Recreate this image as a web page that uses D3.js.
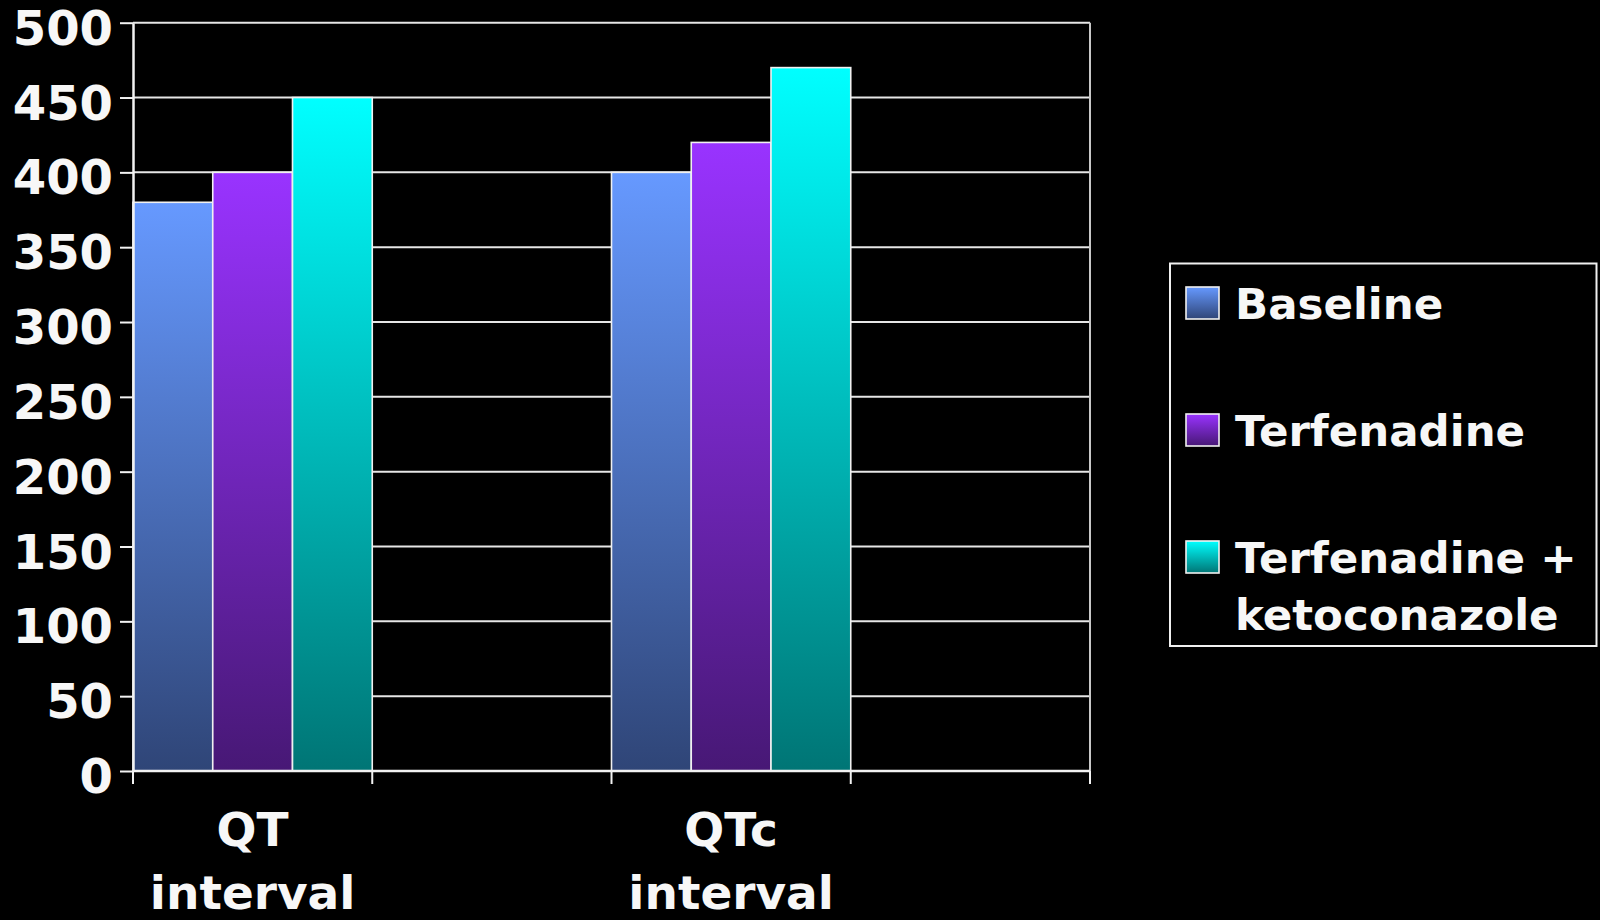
<!DOCTYPE html>
<html>
<head>
<meta charset="utf-8">
<script src="https://cdn.jsdelivr.net/npm/d3@7/dist/d3.min.js"></script>
<style>
  html, body { margin: 0; padding: 0; background: #000; }
  svg { display: block; }
  text { font-family: "DejaVu Sans", Verdana, sans-serif; font-weight: bold; fill: #f7f7f7; }
</style>
</head>
<body>
<svg id="chart" width="1600" height="920"></svg>
<script>
// QT measurements (ms) under each treatment
const categories = ["QT interval", "QTc interval"];
const categoryLines = [["QT", "interval"], ["QTc", "interval"]];
const series = ["Baseline", "Terfenadine", "Terfenadine + ketoconazole"];
const legendLines = [["Baseline"], ["Terfenadine"], ["Terfenadine +", "ketoconazole"]];
const baseline = [380, 400];
const terfenadine = [400, 420];
const terfKetoconazole = [450, 470];
const yTicks = [0, 50, 100, 150, 200, 250, 300, 350, 400, 450, 500];

const values = [baseline, terfenadine, terfKetoconazole];
const topColors = ["#6699ff", "#9933ff", "#00ffff"];
const bottomColors = ["#2f4577", "#471875", "#007575"];

const svg = d3.select("#chart");
const plotLeft = 133, plotRight = 1090, plotTop = 22.7, plotBottom = 771;

// Each category is followed by an empty slot of equal width
const slots = [];
categories.forEach((c, i) => { slots.push(c); slots.push("__gap" + i); });
const x = d3.scaleBand().domain(slots).range([plotLeft, plotRight]).padding(0);
const xs = d3.scaleBand().domain(series).range([0, x.bandwidth()]).padding(0);
const y = d3.scaleLinear().domain([0, 500]).range([plotBottom, plotTop]);

// Vertical gradients, bright at the top and dark at the bottom
const defs = svg.append("defs");
series.forEach((s, i) => {
  const g = defs.append("linearGradient").attr("id", "grad" + i)
    .attr("x1", 0).attr("y1", 0).attr("x2", 0).attr("y2", 1);
  g.append("stop").attr("offset", "0%").attr("stop-color", topColors[i]);
  g.append("stop").attr("offset", "100%").attr("stop-color", bottomColors[i]);
});

// Horizontal gridlines
svg.append("g").selectAll("line").data(yTicks.filter(d => d > 0)).join("line")
  .attr("x1", plotLeft).attr("x2", plotRight)
  .attr("y1", d => y(d)).attr("y2", d => y(d))
  .attr("stroke", "#e6e6e6").attr("stroke-width", 2);

// Right frame edge
svg.append("line").attr("x1", plotRight).attr("x2", plotRight).attr("y1", plotTop).attr("y2", plotBottom)
  .attr("stroke", "#c8c8c8").attr("stroke-width", 2);

// Bars
const bars = svg.append("g");
categories.forEach((c, ci) => {
  series.forEach((s, si) => {
    const v = values[si][ci];
    bars.append("rect")
      .attr("x", x(c) + xs(s))
      .attr("y", y(v))
      .attr("width", xs.bandwidth())
      .attr("height", y(0) - y(v))
      .attr("fill", "url(#grad" + si + ")")
      .attr("stroke", "#f0f0f0").attr("stroke-width", 1.6);
  });
});

// Y axis
const yAxis = svg.append("g").attr("transform", `translate(${plotLeft},0)`)
  .call(d3.axisLeft(y).tickValues(yTicks).tickSize(13).tickSizeOuter(0).tickPadding(7));
yAxis.select(".domain").attr("stroke", "#f2f2f2").attr("stroke-width", 2.5);
yAxis.selectAll(".tick line").attr("stroke", "#f2f2f2").attr("stroke-width", 2);
yAxis.selectAll(".tick text")
  .attr("font-size", 48).attr("dy", "0.45em").attr("fill", "#f7f7f7");
yAxis.attr("font-family", null).attr("font-size", null);

// X axis baseline and slot dividers
svg.append("line").attr("x1", plotLeft).attr("x2", plotRight).attr("y1", plotBottom).attr("y2", plotBottom)
  .attr("stroke", "#f2f2f2").attr("stroke-width", 2.5);
const edges = slots.map(d => x(d)).concat([x.range()[1]]);
svg.append("g").selectAll("line").data(edges).join("line")
  .attr("x1", d => d).attr("x2", d => d).attr("y1", plotBottom).attr("y2", plotBottom + 13)
  .attr("stroke", "#f2f2f2").attr("stroke-width", 2);

// Category labels, two lines each
categories.forEach((c, ci) => {
  const t = svg.append("text").attr("text-anchor", "middle").attr("font-size", 47);
  categoryLines[ci].forEach((line, li) => {
    t.append("tspan").attr("x", x(c) + x.bandwidth() / 2)
      .attr("y", 846 + li * 63).text(line);
  });
});

// Legend
const legend = svg.append("g");
legend.append("rect").attr("x", 1170).attr("y", 263.5).attr("width", 426.5).attr("height", 382.5)
  .attr("fill", "#000").attr("stroke", "#f0f0f0").attr("stroke-width", 2);
const rowY = [319, 446, 573];
series.forEach((s, i) => {
  legend.append("rect").attr("x", 1186).attr("y", rowY[i] - 32).attr("width", 33).attr("height", 32)
    .attr("fill", "url(#grad" + i + ")").attr("stroke", "#f0f0f0").attr("stroke-width", 1.6);
  const t = legend.append("text").attr("font-size", 43.5);
  legendLines[i].forEach((line, li) => {
    t.append("tspan").attr("x", 1235).attr("y", rowY[i] + li * 57).text(line);
  });
});
</script>
</body>
</html>
